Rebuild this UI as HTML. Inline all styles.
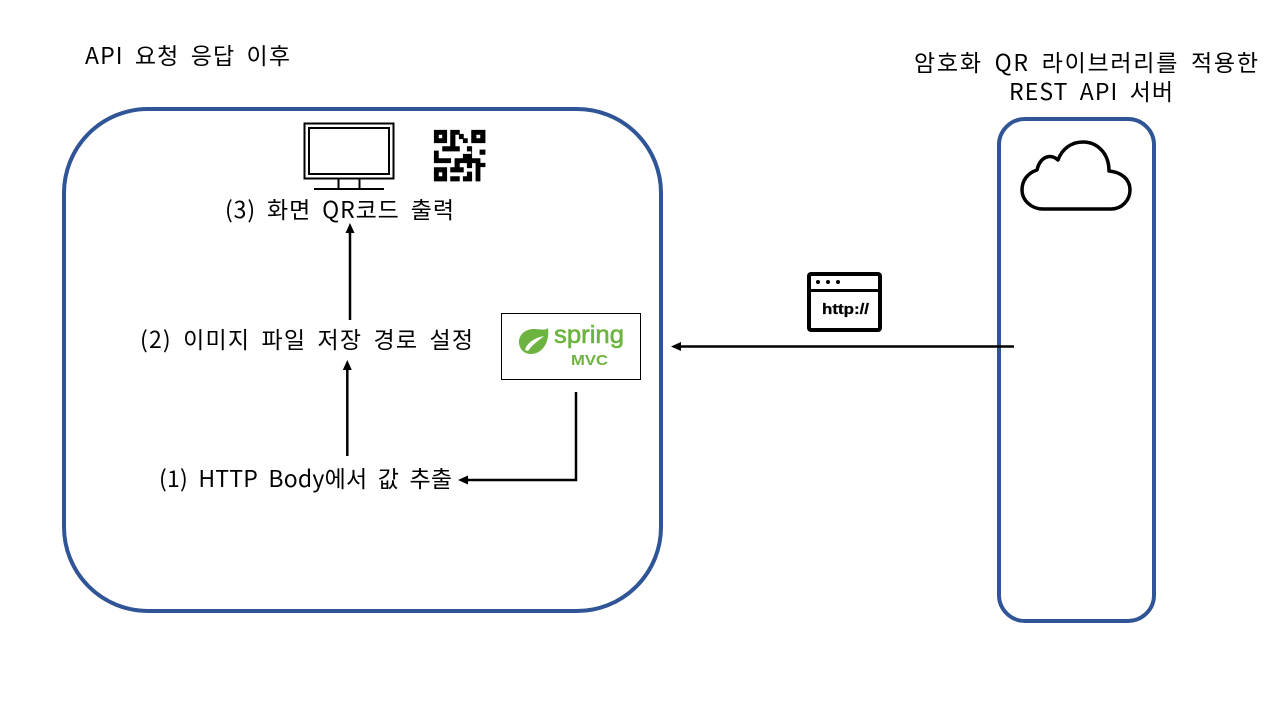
<!DOCTYPE html>
<html><head><meta charset="utf-8"><style>
html,body{margin:0;padding:0;background:#fff}
svg{display:block}
.t{font-family:"Noto Sans CJK KR","Liberation Sans",sans-serif;font-size:23px;fill:#000;word-spacing:5px}
.s{font-family:"Liberation Sans",sans-serif;font-weight:700}
</style></head><body>
<svg width="1280" height="720" viewBox="0 0 1280 720" xmlns="http://www.w3.org/2000/svg">
<rect x="64" y="109" width="597" height="502" rx="84" fill="#fff" stroke="#2f5597" stroke-width="4"/>
<rect x="999" y="119" width="155" height="502" rx="26" fill="#fff" stroke="#2f5597" stroke-width="4"/>

<text class="t" x="85" y="64" textLength="205">API 요청 응답 이후</text>
<text class="t" x="914" y="71" textLength="344">암호화 QR 라이브러리를 적용한</text>
<text class="t" x="1009" y="100" textLength="164">REST API 서버</text>
<text class="t" x="225" y="218" textLength="229">(3) 화면 QR코드 출력</text>
<text class="t" x="140" y="348" textLength="333">(2) 이미지 파일 저장 경로 설정</text>
<text class="t" x="159" y="487" textLength="293">(1) HTTP Body에서 값 추출</text>

<!-- monitor -->
<rect x="304.500" y="123.500" width="89" height="55" fill="none" stroke="#000" stroke-width="2"/>
<rect x="309" y="128" width="80" height="46" fill="none" stroke="#000" stroke-width="2"/>
<path d="M338.500 179V188M359.500 179V188M314 189H384" fill="none" stroke="#000" stroke-width="2"/>

<!-- QR -->
<g transform="translate(430 126) scale(.3333)" fill="#000" stroke="#000" stroke-width="2.500">
<path fill-rule="evenodd" d="M13 13H50V50H13ZM25 25V38H38V25Z"/>
<path fill-rule="evenodd" d="M125 13H165V50H125ZM138 25V38H152V25Z"/>
<path fill-rule="evenodd" d="M13 125H50V165H13ZM25 138V152H38V138Z"/>
<path d="M62 13H88V25H75V62H88V75H38V62H62Z"/>
<rect x="100" y="38" width="12" height="12"/>
<path d="M88 25H100V38H88Z"/>
<path d="M13 75H25V98H62V110H13Z"/>
<rect x="150" y="72" width="15" height="13"/>
<path d="M100 85H125V75H112V62H125V98H150V110H125V125H112V110H88V125H75V98H100Z"/>
<path d="M62 125H100V138H62Z"/>
<path d="M62 152H88V165H62Z"/>
<path d="M112 138H125V165H100V152H112Z"/>
<path d="M138 112H165V122H150V165H138Z"/>
</g>

<!-- cloud -->
<path d="M1043 209H1111C1122 209 1130 200 1130 190C1130 179 1121 172 1109 171C1109 153 1097 142 1083 142C1071 142 1062 149 1058 160C1050 153 1040 157 1037 170C1028 173 1022 180 1022 190C1022 200 1031 209 1043 209Z" fill="none" stroke="#000" stroke-width="3.500" stroke-linejoin="round"/>

<!-- spring box -->
<rect x="501.500" y="313.500" width="139" height="66" fill="#fff" stroke="#000" stroke-width="1"/>
<path d="M548 328C550 344 541 354 531 354C523 354 519 348 519 342C519 334 526 329 534 329C540 329 545 331 548 328Z" fill="#6db33f"/>
<path d="M525 350C527 343 534 338 544 336C538 341 532 345 528 351Z" fill="#fff"/>
<text x="554" y="343" style="font-family:'Liberation Sans',sans-serif;font-size:25px;fill:#6db33f;stroke:#6db33f;stroke-width:.6" textLength="70" lengthAdjust="spacingAndGlyphs">spring</text>
<text x="571" y="365" class="s" style="font-size:15px;fill:#6db33f" textLength="37" lengthAdjust="spacingAndGlyphs">MVC</text>

<!-- http icon -->
<rect x="809" y="274" width="71" height="56" rx="2" fill="#fff" stroke="#000" stroke-width="4"/>
<path d="M809 290.500H880" stroke="#000" stroke-width="3"/>
<circle cx="818" cy="282" r="2" fill="#000"/><circle cx="828" cy="282" r="2" fill="#000"/><circle cx="838" cy="282" r="2" fill="#000"/>
<text x="822" y="314" class="s" style="font-size:15px;stroke:#000;stroke-width:.3" textLength="47" lengthAdjust="spacingAndGlyphs">http://</text>

<!-- connectors -->
<g fill="#000">
<path d="M1014 346.500H680" stroke="#000" stroke-width="2.500" fill="none"/><path d="M671 346.500L681 342V351Z"/>
<path d="M576 392V480H467" stroke="#000" stroke-width="2.500" fill="none"/><path d="M458 480L468 475.500V484.500Z"/>
<path d="M347.300 456V370" stroke="#000" stroke-width="2.500" fill="none"/><path d="M347.300 360L342.800 370H351.800Z"/>
<path d="M350 320V233" stroke="#000" stroke-width="2.500" fill="none"/><path d="M350 223L345.500 233H354.500Z"/>
</g>
</svg>
</body></html>
